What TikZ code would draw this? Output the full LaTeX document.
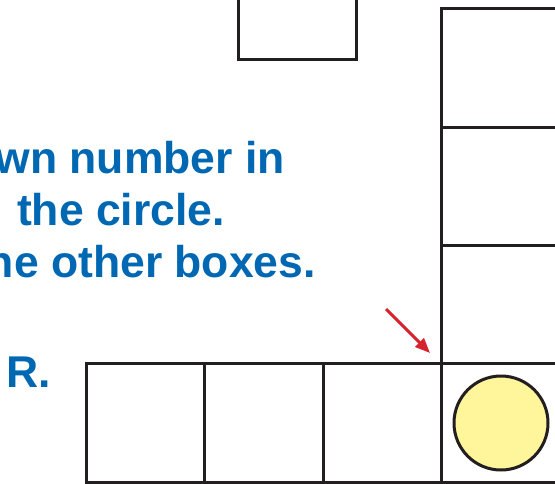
\documentclass[tikz,border=0pt]{standalone}
\usepackage{fontspec}
\setmainfont{Liberation Sans}
\usetikzlibrary{arrows.meta}
\definecolor{txtblue}{RGB}{0,104,178}
\definecolor{boxline}{RGB}{35,31,32}
\definecolor{arrred}{RGB}{215,35,45}
\definecolor{circfill}{RGB}{255,245,155}
\begin{document}
\begin{tikzpicture}[x=1pt,y=-1pt,
  cell/.style={draw=boxline,line width=3pt,minimum width=118.5pt,minimum height=118.5pt,inner sep=0pt,fill=white},
  instr/.style={text=txtblue,font=\fontsize{44.5}{52}\selectfont\bfseries,inner sep=0pt,anchor=base east},
  ring/.style={circle,draw=boxline,line width=3pt,fill=circfill,minimum size=94pt,inner sep=0pt}]
\useasboundingbox (0,0) rectangle (555,483);
\clip (0,0) rectangle (555,483);
% top-left box
\node[cell] (topbox) at (297.5,0) {};
% right column
\node[cell] (r1) at (501,68) {};
\node[cell] (r2) at (501,186.5) {};
\node[cell] (r3) at (501,305) {};
% bottom row
\node[cell] (b1) at (145.5,423) {};
\node[cell] (b2) at (264,423) {};
\node[cell] (b3) at (382.5,423) {};
\node[cell] (b4) at (501,423) {};
\node[ring] (circ) at (b4.center) {};
% text
\node[instr] (t1) at (285,173) {wn number in};
\node[instr] (t2) at (225,225) {the circle.};
\node[instr] (t3) at (316,277) {ne other boxes.};
\node[instr] (t4) at (51,387) {R.};
% arrow
\coordinate (astart) at (386,309);
\coordinate (atip) at (430,353);
\draw[arrred,line width=3pt,-{Triangle[length=15pt,width=12pt]}] (astart) -- (atip);
\end{tikzpicture}
\end{document}
